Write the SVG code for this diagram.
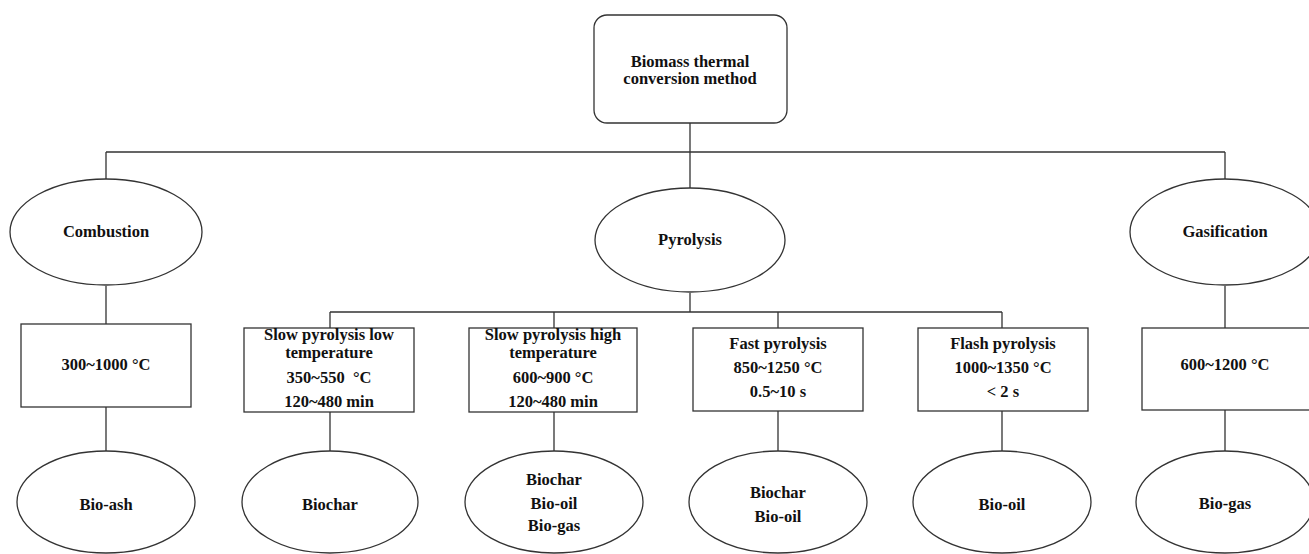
<svg xmlns="http://www.w3.org/2000/svg" width="1309" height="554" viewBox="0 0 1309 554">
<style>
.s{fill:#fff;stroke:#333;stroke-width:1.3}
.c{fill:none;stroke:#333;stroke-width:1.3}
text{font-family:"Liberation Serif","Times New Roman",serif;font-weight:bold;font-size:16.5px;fill:#111;text-anchor:middle}
</style>
<rect width="1309" height="554" fill="#fff"/>
<g id="connectors">
<path class="c" d="M690 123V152M106 152H1225M106 152V179M1225 152V179M690 152V188"/>
<path class="c" d="M106 286V324M106 407V452"/>
<path class="c" d="M690 293V312M330 312H1002M330 312V328M554 312V328M778 312V328M1002 312V328"/>
<path class="c" d="M330 412V452M554 412V452M778 411V452M1002 411V452"/>
<path class="c" d="M1225 286V328M1225 410V452"/>
</g>
<g id="root"><rect class="s" x="594" y="15" width="193" height="108" rx="13"/><text x="690" y="67">Biomass thermal</text><text x="690" y="84">conversion method</text></g>
<g id="combustion"><ellipse class="s" cx="106" cy="232" rx="96" ry="53"/><text x="106" y="237">Combustion</text></g>
<g id="pyrolysis"><ellipse class="s" cx="690" cy="240" rx="95" ry="52"/><text x="690" y="245">Pyrolysis</text></g>
<g id="gasification"><ellipse class="s" cx="1225" cy="232" rx="95" ry="53"/><text x="1225" y="237">Gasification</text></g>
<g id="comb-temp"><rect class="s" x="21" y="324" width="170" height="83"/><text x="106" y="370">300~1000 °C</text></g>
<g id="slow-low"><rect class="s" x="244" y="328" width="170" height="84"/><text x="329" y="340">Slow pyrolysis low</text><text x="329" y="358">temperature</text><text x="329" y="383" xml:space="preserve">350~550  °C</text><text x="329" y="407">120~480 min</text></g>
<g id="slow-high"><rect class="s" x="469" y="328" width="168" height="84"/><text x="553" y="340">Slow pyrolysis high</text><text x="553" y="358">temperature</text><text x="553" y="383">600~900 °C</text><text x="553" y="407">120~480 min</text></g>
<g id="fast"><rect class="s" x="693" y="328" width="170" height="83"/><text x="778" y="349">Fast pyrolysis</text><text x="778" y="373">850~1250 °C</text><text x="778" y="397">0.5~10 s</text></g>
<g id="flash"><rect class="s" x="918" y="328" width="170" height="83"/><text x="1003" y="349">Flash pyrolysis</text><text x="1003" y="373">1000~1350 °C</text><text x="1003" y="397">&lt; 2 s</text></g>
<g id="gas-temp"><rect class="s" x="1142" y="328" width="170" height="82"/><text x="1225" y="370">600~1200 °C</text></g>
<g id="bio-ash"><ellipse class="s" cx="106" cy="502" rx="89" ry="51"/><text x="106" y="510">Bio-ash</text></g>
<g id="biochar"><ellipse class="s" cx="330" cy="502" rx="88" ry="51"/><text x="330" y="510">Biochar</text></g>
<g id="products-high"><ellipse class="s" cx="554" cy="502" rx="89" ry="51"/><text x="554" y="485">Biochar</text><text x="554" y="509">Bio-oil</text><text x="554" y="531">Bio-gas</text></g>
<g id="products-fast"><ellipse class="s" cx="778" cy="502" rx="89" ry="51"/><text x="778" y="498">Biochar</text><text x="778" y="522">Bio-oil</text></g>
<g id="bio-oil"><ellipse class="s" cx="1002" cy="502" rx="89" ry="51"/><text x="1002" y="510">Bio-oil</text></g>
<g id="bio-gas"><ellipse class="s" cx="1225" cy="502" rx="89" ry="51"/><text x="1225" y="509">Bio-gas</text></g>
</svg>
